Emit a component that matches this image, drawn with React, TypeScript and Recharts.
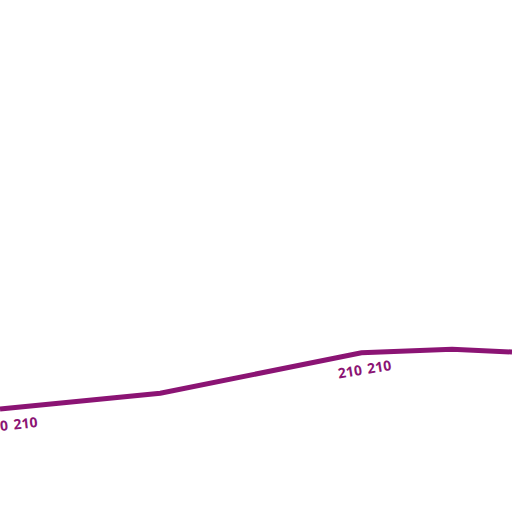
import React from 'react';
import { LineChart, Line, XAxis, YAxis, LabelList } from 'recharts';

const xValues = [0, 1.5, 31.3, 70.6, 88.3, 100];
const yValues = [20.1, 20.25, 23.2, 31.1, 31.8, 31.25];
const pointLabels = ['', '210 210', '', '210 210', '', ''];
const labelAngles = [0, -6, 0, -9, 0, 0];

const COLOR = '#8B1474';

const data = xValues.map((x, i) => ({
  x,
  y: yValues[i],
  label: pointLabels[i],
  angle: labelAngles[i],
}));

const PointLabel = (props: any) => {
  const { x, y, index } = props;
  const item = data[index];
  if (!item || !item.label) return null;
  const cx = x + 3;
  const cy = y + 16;
  return (
    <text
      x={cx}
      y={cy}
      textAnchor="middle"
      dominantBaseline="central"
      fill={COLOR}
      fontSize={14}
      fontWeight={700}
      wordSpacing={2}
      fontFamily="'Open Sans', sans-serif"
      transform={`rotate(${item.angle} ${cx} ${cy})`}
    >
      {item.label}
    </text>
  );
};

export default function App() {
  return (
    <div style={{ position: 'fixed', left: 0, top: 0, width: 512, height: 512, background: '#fff' }}>
      <LineChart width={512} height={512} data={data} margin={{ top: 0, right: 0, bottom: 0, left: 0 }}>
        <XAxis type="number" dataKey="x" domain={[0, 100]} hide />
        <YAxis type="number" domain={[0, 100]} hide />
        <Line
          type="linear"
          dataKey="y"
          stroke={COLOR}
          strokeWidth={5}
          dot={false}
          activeDot={false}
          isAnimationActive={false}
        >
          <LabelList dataKey="label" content={PointLabel} />
        </Line>
      </LineChart>
    </div>
  );
}
